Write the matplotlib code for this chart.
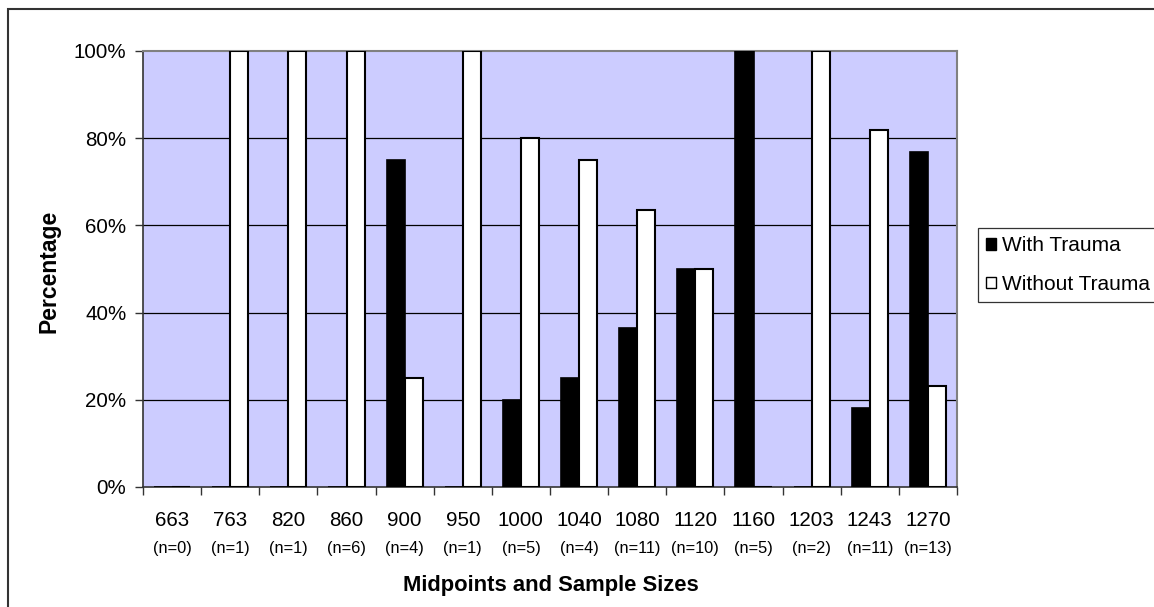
import matplotlib.pyplot as plt
import matplotlib.patches as mpatches
import numpy as np

plt.rcParams['font.family'] = ['Liberation Sans', 'DejaVu Sans']

midpoints = ["663", "763", "820", "860", "900", "950", "1000", "1040",
             "1080", "1120", "1160", "1203", "1243", "1270"]
sample_sizes = [0, 1, 1, 6, 4, 1, 5, 4, 11, 10, 5, 2, 11, 13]

# percent of each bin with / without trauma
with_trauma = [0, 0, 0, 0, 75, 0, 20, 25, 36.4, 50, 100, 0, 18.2, 76.9]
without_trauma = [0, 100, 100, 100, 25, 100, 80, 75, 63.6, 50, 0, 100, 81.8, 23.1]

fig = plt.figure(figsize=(11.54, 6.07), dpi=100)
ax = fig.add_axes([143/1154, 1-487/607, 814/1154, 436/607])
ax.set_facecolor('#CCCCFF')

x = np.arange(len(midpoints))
w = 0.31
ax.bar(x - w/2, with_trauma, w, color='black', edgecolor='black', linewidth=1.2, zorder=3)
ax.bar(x + w/2, without_trauma, w, color='white', edgecolor='black', linewidth=1.5, zorder=3)

for yv in [20, 40, 60, 80]:
    ax.axhline(yv, color='black', linewidth=0.9, zorder=1)

ax.set_xlim(-0.5, len(midpoints) - 0.5)
ax.set_ylim(0, 100)
ax.set_yticks([0, 20, 40, 60, 80, 100])
ax.set_yticklabels([f"{v}%" for v in [0, 20, 40, 60, 80, 100]], fontsize=14.8)
ax.set_xticks(np.arange(-0.5, len(midpoints)), labels=[])
ax.tick_params(axis='both', direction='out', length=6, width=1, color='#333333')
ax.tick_params(axis='y', pad=6)

for s in ['top', 'right']:
    ax.spines[s].set_color('#808080')
    ax.spines[s].set_linewidth(1.5)
for s in ['left', 'bottom']:
    ax.spines[s].set_color('#333333')
    ax.spines[s].set_linewidth(1.2)

# two-line category labels: midpoint, then sample size
trans = ax.get_xaxis_transform()
for i, (m, n) in enumerate(zip(midpoints, sample_sizes)):
    ax.text(i, -33/436, m, transform=trans, ha='center', va='center', fontsize=14.8)
    ax.text(i, -61/436, f"(n={n})", transform=trans, ha='center', va='center', fontsize=11.8)

fig.text(551/1154, 1-585/607, "Midpoints and Sample Sizes", ha='center', va='center',
         fontsize=15.8, fontweight='bold')
fig.text(49/1154, 1-271/607, "Percentage", ha='center', va='center', rotation=90,
         fontsize=16.5, fontweight='bold')

handles = [mpatches.Patch(facecolor='black', edgecolor='black', label='With Trauma'),
           mpatches.Patch(facecolor='white', edgecolor='black', label='Without Trauma')]
leg = fig.legend(handles=handles, loc='upper left', bbox_to_anchor=(978/1154, 1-228/607),
                 fontsize=15, frameon=True, fancybox=False, edgecolor='black',
                 handlelength=0.45, handleheight=0.45, handletextpad=0.3,
                 labelspacing=0.95, borderpad=0.4, borderaxespad=0)
leg.get_frame().set_linewidth(0.9)

# outer chart frame
fig.patches.append(mpatches.Rectangle((8/1154, -0.2), 1.2, 1.2 - 9/607, transform=fig.transFigure,
                                      fill=False, edgecolor='#333333', linewidth=1.5))

fig.savefig("out.png", dpi=100)
